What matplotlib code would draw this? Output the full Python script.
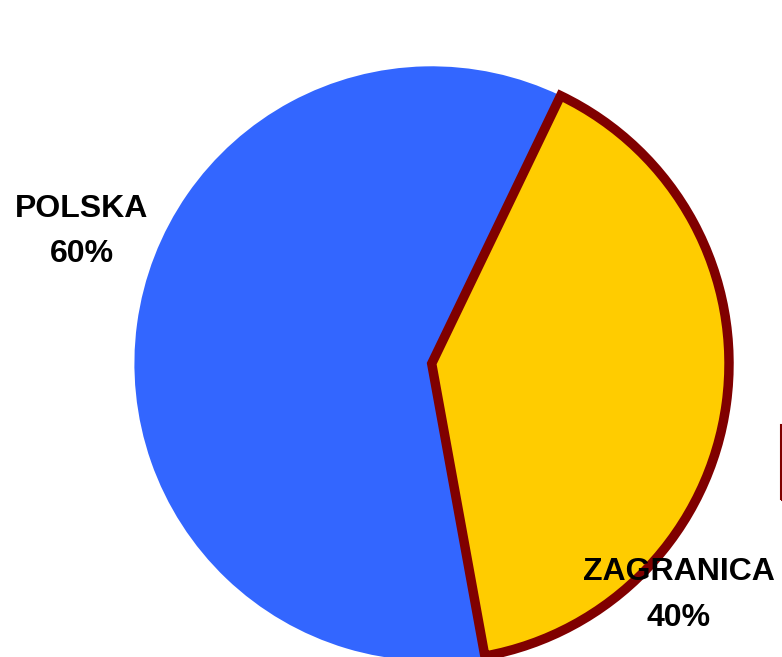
import matplotlib
matplotlib.use("Agg")
import matplotlib.pyplot as plt
from matplotlib.patches import Rectangle

labels = ["POLSKA", "ZAGRANICA"]
values = [60, 40]
colors = ["#3366FF", "#FFCC00"]
edge_color = "#800000"

W, H = 782, 657
fig = plt.figure(figsize=(W / 100, H / 100), dpi=100)
ax = fig.add_axes([0, 0, 1, 1])

cx, cy, r = 431.7, H - 363.6, 297.3
wedges, _ = ax.pie(values, colors=colors, startangle=64.3, counterclock=True,
                   center=(cx, cy), radius=r, frame=True)
ax.set_xlim(0, W)
ax.set_ylim(0, H)
ax.set_aspect("equal")
ax.axis("off")
wedges[0].set_linewidth(0)
wedges[1].set_edgecolor(edge_color)
wedges[1].set_linewidth(6.8)
wedges[1].set_joinstyle("miter")

# (x center, name baseline, percent baseline) in pixels from top
label_pos = [(81.5, 217, 262), (679, 579.5, 626)]
for (x, y1, y2), lab, v in zip(label_pos, labels, values):
    ax.text(x, H - y1, lab, ha="center", va="baseline",
            fontsize=23, fontweight="bold", family="Liberation Sans",
            color="black", zorder=5)
    ax.text(x, H - y2, f"{v}%", ha="center", va="baseline",
            fontsize=23, fontweight="bold", family="Liberation Sans",
            color="black", zorder=5)

# clipped legend box at right edge
ax.add_patch(Rectangle((780.5, H - 500), 30, 75, fill=False,
                       edgecolor=edge_color, linewidth=1.5, clip_on=False))

fig.savefig("out.png", dpi=100)
